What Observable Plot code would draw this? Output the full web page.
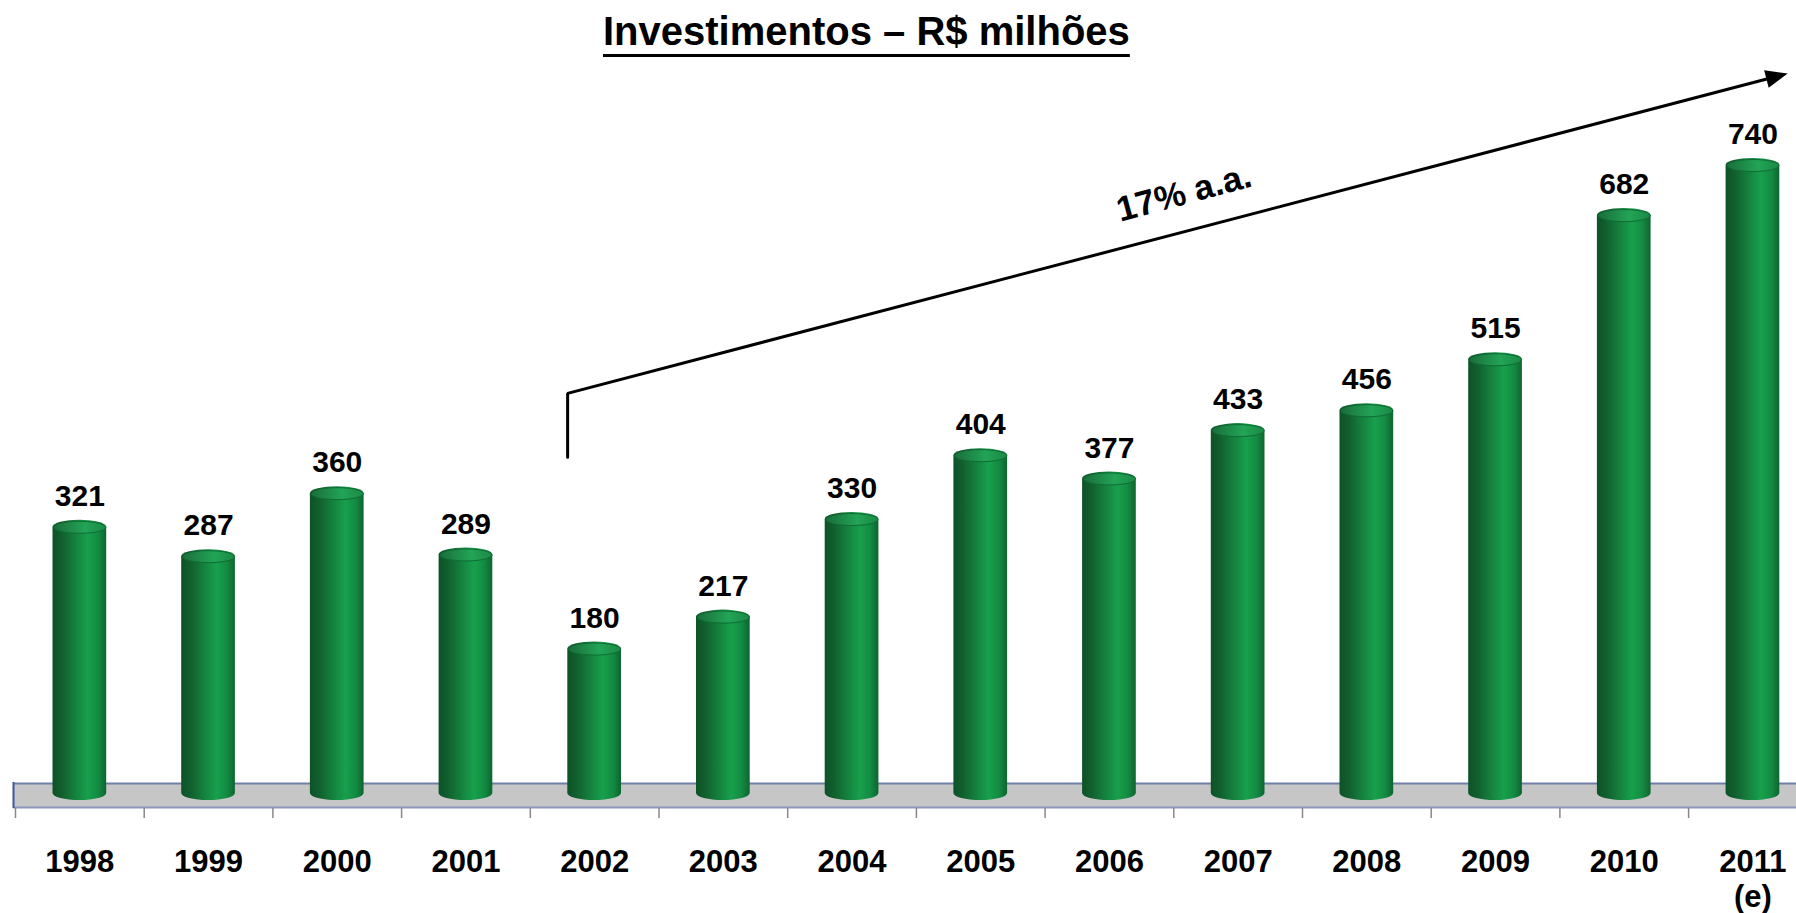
<!DOCTYPE html>
<html><head><meta charset="utf-8">
<script src="https://cdn.jsdelivr.net/npm/d3@7"></script>
<script src="https://cdn.jsdelivr.net/npm/@observablehq/plot@0.6"></script>
<style>
body{margin:0;background:#fff;font-family:"Liberation Sans",Arial,sans-serif;}
#title{position:relative;height:58px;}
#title span{position:absolute;left:603px;top:11px;font-size:40px;line-height:40px;font-weight:bold;color:#000;
  text-decoration:underline;text-decoration-thickness:3px;text-underline-offset:9px;white-space:nowrap;}
svg{display:block}
</style></head><body>
<div id="title"><span>Investimentos – R$ milhões</span></div>
<div id="chart"></div>
<script>
// ---- data ----
const years = [1998,1999,2000,2001,2002,2003,2004,2005,2006,2007,2008,2009,2010,2011];
const values = [321,287,360,289,180,217,330,404,377,433,456,515,682,740];
const yearLabels = ["1998","1999","2000","2001","2002","2003","2004","2005","2006","2007","2008","2009","2010","2011\n(e)"];
const tickBoundaries = [1997.5,1998.5,1999.5,2000.5,2001.5,2002.5,2003.5,2004.5,2005.5,2006.5,2007.5,2008.5,2009.5,2010.5,2011.5];
// growth arrow annotation, in data units (year, R$ milhões)
const arrowPath = [{x:2001.79, y:394}, {x:2001.79, y:468}, {x:2011.13, y:833}];
const arrowTip = [{x:2011.27, y:838.5}];
const growthLabel = [{x:2006.58, y:700, text:"17% a.a."}];

const data = years.map((year, i) => ({year, value: values[i], label: yearLabels[i]}));

const capSymbol = {draw(ctx){ const rx=26, ry=6, k=0.5523;
  ctx.moveTo(rx,0); ctx.bezierCurveTo(rx,k*ry,k*rx,ry,0,ry); ctx.bezierCurveTo(-k*rx,ry,-rx,k*ry,-rx,0);
  ctx.bezierCurveTo(-rx,-k*ry,-k*rx,-ry,0,-ry); ctx.bezierCurveTo(k*rx,-ry,rx,-k*ry,rx,0); ctx.closePath(); }};
const headSymbol = {draw(ctx){ ctx.moveTo(0,0); ctx.lineTo(-22,-9); ctx.lineTo(-22,9); ctx.closePath(); }};

const font = "'Liberation Sans', Arial, sans-serif";

const svg = Plot.plot({
  width: 1796,
  height: 855,
  marginLeft: 13,
  marginRight: 0,
  marginTop: 0,
  marginBottom: 105,
  style: {fontFamily: font, background: "#fff", color: "#000", overflow: "visible"},
  x: {type: "linear", domain: [1997.5, 2011.5], range: [15, 1816.8], label: null},
  y: {domain: [0, 740], range: [739, 100], axis: null, label: null},
  marks: [
    // floor
    Plot.ruleY([0], {stroke: "#c6c6c6", strokeWidth: 24, dy: -2}),
    Plot.ruleY([0], {stroke: "#6f7fa8", strokeWidth: 2, dy: -14}),
    Plot.ruleY([0], {stroke: "#8a96b8", strokeWidth: 2, dy: 10}),
    Plot.ruleX([1997.5], {y1: 0, y2: 0, insetTop: -15, insetBottom: -11, dx: -2, stroke: "#3f55a0", strokeWidth: 2}),
    // ticks
    Plot.axisX({ticks: tickBoundaries, tickSize: 10, tickFormat: () => "", stroke: "#888", strokeWidth: 1.5, label: null}),
    // year labels
    Plot.axisX({ticks: years, tickSize: 0, tickPadding: 39, tickFormat: d => yearLabels[years.indexOf(d)],
      fontSize: 31, fontWeight: "bold", fill: "#000", lineHeight: 1.12, label: null}),
    // bars (cylinders)
    Plot.rect(data, {x1: d => d.year - 0.5, x2: d => d.year + 0.5, y1: 0, y2: "value",
      insetLeft: 37.5, insetRight: 37.5, insetBottom: -3, rx: 27, ry: 7, fill: "url(#barGrad)"}),
    Plot.dot(data, {x: "year", y: "value", dy: 7, symbol: capSymbol, r: 1, fill: "url(#capGrad)", stroke: "#0f6a33", strokeWidth: 1}),
    // value labels
    Plot.text(data, {x: "year", y: "value", text: d => String(d.value), dy: -24, fontSize: 30, fontWeight: "bold", fill: "#000"}),
    // growth arrow
    Plot.line(arrowPath, {x: "x", y: "y", stroke: "#000", strokeWidth: 3, strokeLinejoin: "miter", curve: "linear"}),
    Plot.dot(arrowTip, {x: "x", y: "y", symbol: headSymbol, r: 1, fill: "#000", stroke: "none", rotate: -14.7}),
    Plot.text(growthLabel, {x: "x", y: "y", text: "text", rotate: -15, fontSize: 35, fontWeight: "bold", fill: "#000"})
  ]
});

svg.insertAdjacentHTML("afterbegin", `
<defs>
  <linearGradient id="barGrad" x1="0" x2="1" y1="0" y2="0">
    <stop offset="0" stop-color="#0d5227"/>
    <stop offset="0.18" stop-color="#11602f"/>
    <stop offset="0.45" stop-color="#15853f"/>
    <stop offset="0.66" stop-color="#17a04c"/>
    <stop offset="0.85" stop-color="#138b42"/>
    <stop offset="1" stop-color="#0d6530"/>
  </linearGradient>
  <linearGradient id="capGrad" x1="0" x2="1" y1="0" y2="0">
    <stop offset="0" stop-color="#1a6e3b"/>
    <stop offset="0.6" stop-color="#22a456"/>
    <stop offset="1" stop-color="#1a8a46"/>
  </linearGradient>
</defs>`);

document.getElementById("chart").appendChild(svg);
</script>
</body></html>
